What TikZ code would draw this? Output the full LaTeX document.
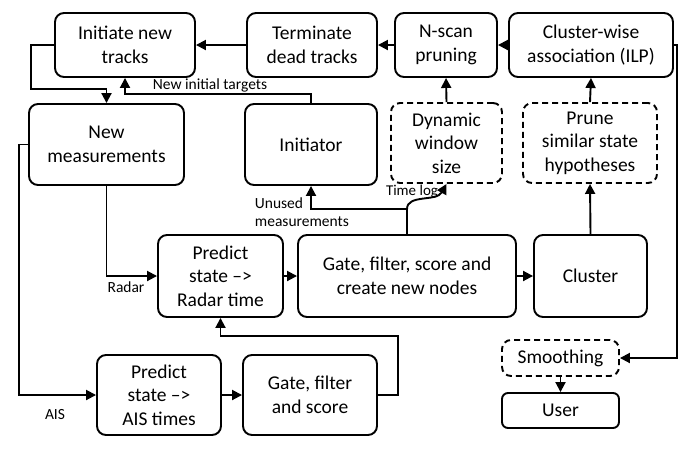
\documentclass[tikz,border=0pt]{standalone}
\usepackage{fontspec}
\setmainfont{Carlito}
\usetikzlibrary{arrows.meta, calc}

\begin{document}
\begin{tikzpicture}[x=1pt, y=-1pt, line width=1.9pt,
    >={Triangle[length=10pt, width=10pt]},
    block/.style={draw, rounded corners=9pt, align=center, inner sep=0pt,
        font=\fontsize{19.5}{23.5}\selectfont},
    dashblock/.style={block, dash pattern=on 6pt off 4pt},
    lbl/.style={inner sep=0pt, font=\fontsize{15.5}{18}\selectfont}]
    \useasboundingbox (0, 0) rectangle (700, 453);

    % top row
    \node[block, minimum width=140pt, minimum height=64pt] (init_tracks) at (125, 45) {Initiate new\\tracks};
    \node[block, minimum width=130pt, minimum height=64pt] (term_tracks) at (312, 45) {Terminate\\dead tracks};
    \node[block, minimum width=102pt, minimum height=64pt] (nscan) at (446, 45) {N-scan\\pruning};
    \node[block, minimum width=164pt, minimum height=64pt] (cluster_assoc) at (591, 45) {Cluster-wise\\association (ILP)};

    % second row
    \node[block, minimum width=155pt, minimum height=81pt] (new_meas) at (106.5, 144.5) {New\\measurements};
    \node[block, minimum width=132pt, minimum height=81pt] (initiator) at (311, 144.5) {Initiator};
    \node[dashblock, minimum width=111pt, minimum height=80pt] (dyn_window) at (446.5, 143) {Dynamic\\window\\size};
    \node[dashblock, minimum width=134pt, minimum height=80pt] (prune_hyp) at (590, 143) {Prune\\similar state\\hypotheses};

    % radar row
    \node[block, minimum width=125pt, minimum height=82pt] (predict_radar) at (220.5, 276) {Predict\\state --{>}\\Radar time};
    \node[block, minimum width=218pt, minimum height=82pt] (gate_radar) at (407, 276) {Gate, filter, score and\\create new nodes};
    \node[block, minimum width=113pt, minimum height=82pt] (cluster) at (590.5, 276) {Cluster};

    % AIS row
    \node[block, minimum width=124pt, minimum height=80pt] (predict_ais) at (159, 395) {Predict\\state --{>}\\AIS times};
    \node[block, minimum width=134pt, minimum height=80pt] (gate_ais) at (310, 395) {Gate, filter\\and score};

    % output
    \node[dashblock, minimum width=117pt, minimum height=36pt] (smoothing) at (560.5, 358) {Smoothing};
    \node[block, rounded corners=6pt, minimum width=117pt, minimum height=35pt] (user) at (560.5, 410.5) {User};

    % labels
    \node[lbl] (lbl_targets) at (210, 85) {New initial targets};
    \node[lbl] (lbl_ais) at (55, 415) {AIS};
    \node[lbl] (lbl_radar) at (126, 287) {Radar};
    \node[lbl, align=left, anchor=north west] (lbl_unused) at (254, 197) {Unused\\measurements};
    \node[lbl, font=\fontsize{15}{17}\selectfont] (lbl_timelog) at (412, 192) {Time log};

    % helper points
    \coordinate (unused_split) at ($(gate_radar.north)+(0, -25)$);
    \coordinate (meas_drop) at ($(new_meas.north)+(0, -14)$);
    \coordinate (radar_back) at ($(predict_radar.south)+(0, 18)$);

    % connectors
    \draw[->] (term_tracks.west) -- (init_tracks.east);
    \draw[->] (nscan.west) -- (term_tracks.east);
    \draw[->] (cluster_assoc.west) -- (nscan.east);
    \draw[->] (init_tracks.west) -- ++(-23, 0) |- (meas_drop) -- (new_meas.north);
    \draw[->] (initiator.north) -- ++(0, -9) -| (init_tracks.south);
    \draw[->] (new_meas.west) -- ++(-9, 0) |- (predict_ais.west);
    \draw[->] (new_meas.south) |- (predict_radar.west);
    \draw[->] (predict_radar.east) -- (gate_radar.west);
    \draw[->] (gate_radar.east) -- (cluster.west);
    \draw[->] (cluster.north) -- (prune_hyp.south);
    \draw[->] (prune_hyp.north) -- (cluster_assoc.south);
    \draw[->] (dyn_window.north) -- (nscan.south);
    \draw[->] (gate_radar.north) -- (unused_split) -| (initiator.south);
    \draw[->] (unused_split) .. controls +(0, -15) and +(-10, 18) .. (dyn_window.south);
    \draw[->] (predict_ais.east) -- (gate_ais.west);
    \draw[->] (gate_ais.east) -- ++(20, 0) |- (radar_back) -- (predict_radar.south);
    \draw[->] (cluster_assoc.east) -- ++(3, 0) |- (smoothing.east);
    \draw[->] (smoothing.south) -- (user.north);
\end{tikzpicture}
\end{document}
